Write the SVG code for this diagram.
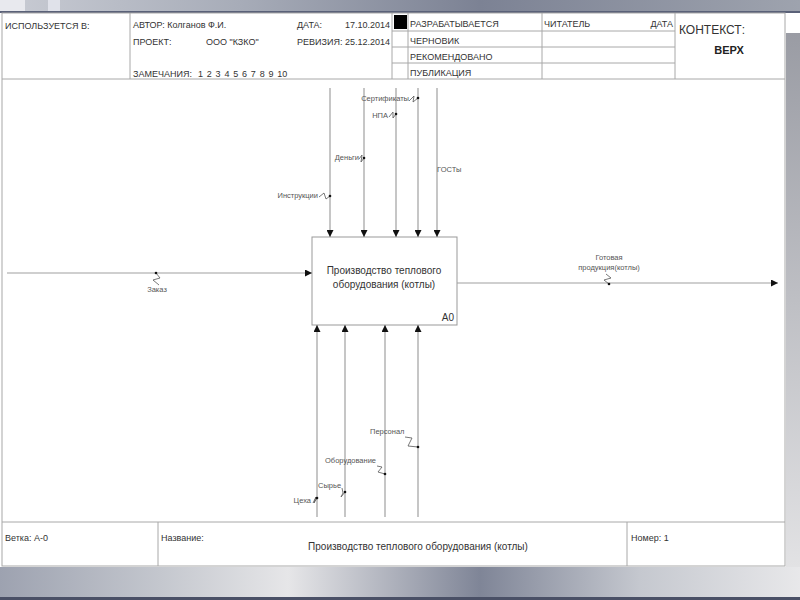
<svg xmlns="http://www.w3.org/2000/svg" width="800" height="600" viewBox="0 0 800 600">
<defs>
<linearGradient id="topband" x1="0" y1="0" x2="1" y2="0">
<stop offset="0" stop-color="#c9ccd4"/>
<stop offset="0.3" stop-color="#a7acb8"/>
<stop offset="0.6" stop-color="#7c8294"/>
<stop offset="1" stop-color="#9ea3ae"/>
</linearGradient>
<linearGradient id="botband" x1="0" y1="0" x2="1" y2="0">
<stop offset="0" stop-color="#9da2b0"/>
<stop offset="0.2" stop-color="#c4c7ce"/>
<stop offset="0.36" stop-color="#e6e6e8"/>
<stop offset="0.6" stop-color="#7f8597"/>
<stop offset="0.8" stop-color="#c5c8cf"/>
<stop offset="1" stop-color="#e8e8ea"/>
</linearGradient>
<linearGradient id="rightband" x1="0" y1="0" x2="0" y2="1">
<stop offset="0" stop-color="#9a9ca4"/>
<stop offset="1" stop-color="#e2e2e4"/>
</linearGradient>
<marker id="ah" viewBox="0 0 10 10" refX="10" refY="5" markerWidth="7" markerHeight="7" markerUnits="userSpaceOnUse" orient="auto">
<path d="M0,0 L10,5 L0,10 z" fill="#111"/>
</marker>
<style>
.frame{fill:#fff;stroke:#a8a8a8;stroke-width:1}
.cell{fill:none;stroke:#a8a8a8;stroke-width:1}
.t{font-family:"Liberation Sans",Arial,sans-serif;font-size:9px;fill:#333}
.big{font-size:10px}
.lbl{font-family:"Liberation Sans",Arial,sans-serif;font-size:7.5px;fill:#555}
.arr{fill:none;stroke:#a0a0a0;stroke-width:1.2;marker-end:url(#ah)}
.sq{fill:none;stroke:#555;stroke-width:0.8}
.dot{fill:#111}
</style>
</defs>

<!-- slide background -->
<rect x="0" y="0" width="800" height="600" fill="#ffffff"/>
<rect x="0" y="0" width="800" height="12" fill="url(#topband)"/>
<rect x="0" y="0" width="25" height="12" fill="#e8e9ee"/>
<rect x="48" y="0" width="12" height="12" fill="#e0e2ea"/>
<rect x="0" y="11" width="800" height="2" fill="#5a6178"/>
<rect x="786" y="33" width="14" height="534" fill="url(#rightband)"/>
<rect x="0" y="567" width="800" height="31" fill="url(#botband)"/>
<rect x="0" y="597" width="800" height="3" fill="#4a5066"/>

<!-- main frame -->
<rect class="frame" x="2" y="13" width="783" height="553"/>

<!-- header -->
<g id="header">
<line class="cell" x1="2" y1="79" x2="785" y2="79"/>
<line class="cell" x1="130" y1="13" x2="130" y2="79"/>
<line class="cell" x1="392" y1="13" x2="392" y2="79"/>
<line class="cell" x1="408" y1="13" x2="408" y2="79"/>
<line class="cell" x1="542" y1="13" x2="542" y2="79"/>
<line class="cell" x1="675" y1="13" x2="675" y2="79"/>
<line class="cell" x1="392" y1="31" x2="675" y2="31"/>
<line class="cell" x1="392" y1="47" x2="675" y2="47"/>
<line class="cell" x1="392" y1="63" x2="675" y2="63"/>
<rect x="394" y="15" width="13" height="14" fill="#000"/>
<text class="t" x="5" y="29">ИСПОЛЬЗУЕТСЯ В:</text>
<text class="t" x="133" y="28">АВТОР: Колганов Ф.И.</text>
<text class="t" x="297" y="28">ДАТА:</text>
<text class="t" x="390" y="28" text-anchor="end">17.10.2014</text>
<text class="t" x="133" y="45">ПРОЕКТ:</text>
<text class="t" x="206" y="45">ООО "КЗКО"</text>
<text class="t" x="297" y="45">РЕВИЗИЯ: 25.12.2014</text>
<text class="t" x="133" y="77">ЗАМЕЧАНИЯ:</text>
<text class="t" x="198" y="77" style="word-spacing:1.3px">1 2 3 4 5 6 7 8 9 10</text>
<text class="t" x="410" y="27">РАЗРАБАТЫВАЕТСЯ</text>
<text class="t" x="410" y="44">ЧЕРНОВИК</text>
<text class="t" x="410" y="60">РЕКОМЕНДОВАНО</text>
<text class="t" x="410" y="76">ПУБЛИКАЦИЯ</text>
<text class="t" x="544" y="27">ЧИТАТЕЛЬ</text>
<text class="t" x="673" y="27" text-anchor="end">ДАТА</text>
<text class="t" x="679" y="34" style="font-size:12px">КОНТЕКСТ:</text>
<text class="t" x="729" y="54" text-anchor="middle" style="font-size:11px;font-weight:bold;fill:#222">ВЕРХ</text>
</g>

<!-- footer -->
<g id="footer">
<line class="cell" x1="2" y1="522" x2="785" y2="522"/>
<line class="cell" x1="158" y1="522" x2="158" y2="566"/>
<line class="cell" x1="627" y1="522" x2="627" y2="566"/>
<text class="t" x="5" y="541">Ветка: А-0</text>
<text class="t" x="161" y="541">Название:</text>
<text class="t big" x="418" y="550" text-anchor="middle">Производство теплового оборудования (котлы)</text>
<text class="t" x="631" y="541">Номер: 1</text>
</g>

<!-- activity node -->
<g id="A0">
<rect x="312" y="237" width="145" height="88" fill="#fff" stroke="#999" stroke-width="1"/>
<text class="t big" x="384" y="274" text-anchor="middle">Производство теплового</text>
<text class="t big" x="384" y="288" text-anchor="middle">оборудования (котлы)</text>
<text class="t big" x="454" y="321" text-anchor="end">A0</text>
</g>

<!-- connectors -->
<g id="connectors">
<!-- controls (top) -->
<g id="c-instr">
<line class="arr" x1="330" y1="88" x2="330" y2="237"/>
<polyline class="sq" points="319,197 324,193 326,199 330,196"/>
<circle class="dot" cx="330" cy="196" r="1.3"/>
<text class="lbl" x="318" y="198" text-anchor="end">Инструкции</text>
</g>
<g id="c-money">
<line class="arr" x1="364" y1="88" x2="364" y2="237"/>
<polyline class="sq" points="359,159 362,155 361,162 364,158"/>
<circle class="dot" cx="364" cy="158" r="1.3"/>
<text class="lbl" x="359" y="160" text-anchor="end">Деньги</text>
</g>
<g id="c-npa">
<line class="arr" x1="396" y1="88" x2="396" y2="237"/>
<polyline class="sq" points="389,117 393,112 393,118 396,114"/>
<circle class="dot" cx="396" cy="114" r="1.3"/>
<text class="lbl" x="388" y="118" text-anchor="end">НПА</text>
</g>
<g id="c-cert">
<line class="arr" x1="418" y1="88" x2="418" y2="237"/>
<polyline class="sq" points="409,101 414,96 413,102 418,98"/>
<circle class="dot" cx="418" cy="98" r="1.3"/>
<text class="lbl" x="409" y="101" text-anchor="end">Сертификаты</text>
</g>
<g id="c-gost">
<line class="arr" x1="437" y1="88" x2="437" y2="237"/>
<text class="lbl" x="437" y="172">ГОСТы</text>
</g>
<!-- input -->
<g id="c-order">
<line class="arr" x1="7" y1="273" x2="312" y2="273"/>
<polyline class="sq" points="156,273 160,278 153,280 159,285"/>
<circle class="dot" cx="156" cy="273" r="1.3"/>
<text class="lbl" x="157" y="292" text-anchor="middle">Заказ</text>
</g>
<!-- output -->
<g id="c-product">
<line class="arr" x1="457" y1="283" x2="778" y2="283"/>
<polyline class="sq" points="606,274 611,278 604,280 609,284"/>
<circle class="dot" cx="609" cy="284" r="1.3"/>
<text class="lbl" x="609" y="260" text-anchor="middle">Готовая</text>
<text class="lbl" x="609" y="270" text-anchor="middle">продукция(котлы)</text>
</g>
<!-- mechanisms (bottom) -->
<g id="c-shops">
<line class="arr" x1="317" y1="517" x2="317" y2="325"/>
<polyline class="sq" points="313,503 316,497 314,503 317,498"/>
<circle class="dot" cx="317" cy="498" r="1.3"/>
<text class="lbl" x="311" y="503" text-anchor="end">Цеха</text>
</g>
<g id="c-raw">
<line class="arr" x1="345" y1="517" x2="345" y2="325"/>
<polyline class="sq" points="342,488 343,493 341,497 345,492"/>
<circle class="dot" cx="345" cy="492" r="1.3"/>
<text class="lbl" x="318" y="488">Сырье</text>
</g>
<g id="c-equip">
<line class="arr" x1="385" y1="517" x2="385" y2="325"/>
<polyline class="sq" points="377,466 382,467 378,472 385,474"/>
<circle class="dot" cx="385" cy="474" r="1.3"/>
<text class="lbl" x="325" y="463">Оборудование</text>
</g>
<g id="c-staff">
<line class="arr" x1="418" y1="517" x2="418" y2="325"/>
<polyline class="sq" points="405,437 412,438 408,446 418,447"/>
<circle class="dot" cx="418" cy="447" r="1.3"/>
<text class="lbl" x="370" y="434">Персонал</text>
</g>
</g>
</svg>
